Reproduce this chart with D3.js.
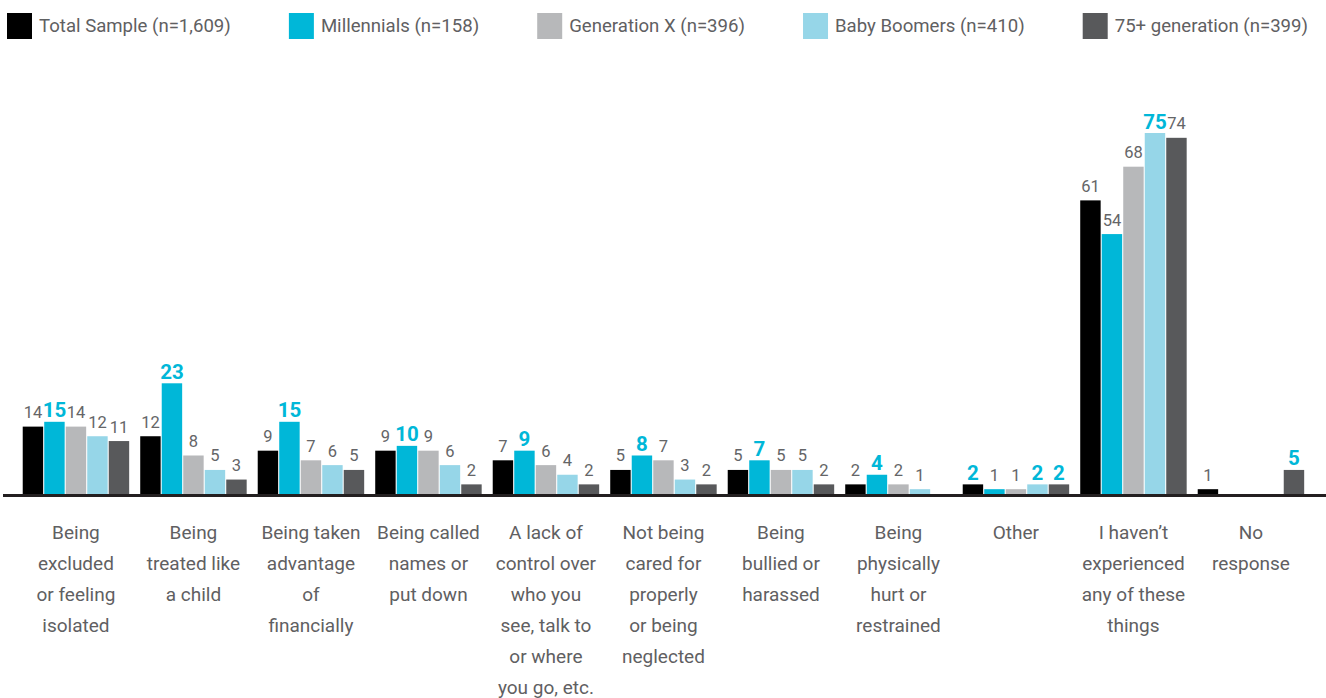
<!DOCTYPE html>
<html>
<head>
<meta charset="utf-8">
<script src="https://cdn.jsdelivr.net/npm/d3@7"></script>
<style>
  body { margin: 0; background: #fff; }
  svg { display: block; font-family: Roboto, "Open Sans", sans-serif; }
</style>
</head>
<body>
<svg id="chart" width="1326" height="698"></svg>
<script>
// categories and their wrapped label lines
var categories = ["excluded", "child", "financially", "names", "control", "neglected",
  "bullied", "hurt", "other", "none", "noresponse"];
var categoryLines = [
  ["Being", "excluded", "or feeling", "isolated"],
  ["Being", "treated like", "a child"],
  ["Being taken", "advantage", "of", "financially"],
  ["Being called", "names or", "put down"],
  ["A lack of", "control over", "who you", "see, talk to", "or where", "you go, etc."],
  ["Not being", "cared for", "properly", "or being", "neglected"],
  ["Being", "bullied or", "harassed"],
  ["Being", "physically", "hurt or", "restrained"],
  ["Other"],
  ["I haven\u2019t", "experienced", "any of these", "things"],
  ["No", "response"]
];

var seriesNames = ["Total Sample (n=1,609)", "Millennials (n=158)", "Generation X (n=396)",
  "Baby Boomers (n=410)", "75+ generation (n=399)"];
var seriesColors = ["#000000", "#00b7d8", "#b7b8ba", "#96d6e8", "#58595b"];

// values in percent, null = no bar
var totalSample = [14, 12, 9, 9, 7, 5, 5, 2, 2, 61, 1];
var millennials = [15, 23, 15, 10, 9, 8, 7, 4, 1, 54, null];
var generationX = [14, 8, 7, 9, 6, 7, 5, 2, 1, 68, null];
var babyBoomers = [12, 5, 6, 6, 4, 3, 5, 1, 2, 75, null];
var gen75plus = [11, 3, 5, 2, 2, 2, 2, null, 2, 74, 5];
var seriesValues = [totalSample, millennials, generationX, babyBoomers, gen75plus];

var svg = d3.select("#chart");
var baseY = 494;

var x0 = d3.scaleBand()
  .domain(categories)
  .range([17.2, 1309.7])
  .paddingInner(0.094)
  .paddingOuter(0.047);
var x1 = d3.scaleBand()
  .domain(d3.range(seriesNames.length))
  .range([0, x0.bandwidth()])
  .paddingInner(0.05);
var y = d3.scaleLinear().domain([0, 75]).range([baseY, 133]);

// legend, spread across the top
var legend = svg.append("g").attr("class", "legend");
var items = [];
seriesNames.forEach(function(name, i) {
  var g = legend.append("g");
  g.append("rect")
    .attr("x", 0).attr("y", 13)
    .attr("width", 25).attr("height", 26)
    .attr("fill", seriesColors[i]);
  var t = g.append("text")
    .attr("x", 32).attr("y", 32)
    .attr("font-size", 18.6)
    .attr("fill", "#5f6062")
    .text(name);
  items.push({ g: g, w: 32 + t.node().getComputedTextLength() });
});
var legLeft = 7, legRight = 1308;
var gap = (legRight - legLeft - d3.sum(items, function(d) { return d.w; })) / (items.length - 1);
var cx = legLeft;
items.forEach(function(d) {
  d.g.attr("transform", "translate(" + cx + ",0)");
  cx += d.w + gap;
});

// bars
var groups = svg.append("g").selectAll("g")
  .data(categories)
  .join("g")
  .attr("transform", function(d) { return "translate(" + x0(d) + ",0)"; });

groups.each(function(cat, ci) {
  var g = d3.select(this);
  var vals = seriesValues.map(function(s) { return s[ci]; });
  var maxVal = d3.max(vals);
  vals.forEach(function(v, si) {
    if (v === null) return;
    g.append("rect")
      .attr("x", x1(si))
      .attr("y", y(v))
      .attr("width", x1.bandwidth())
      .attr("height", baseY - y(v))
      .attr("fill", seriesColors[si]);
    var hi = v === maxVal;
    g.append("text")
      .attr("x", x1(si) + x1.bandwidth() / 2)
      .attr("y", y(v) - (hi ? 4.5 : 8.5))
      .attr("text-anchor", "middle")
      .attr("font-size", hi ? 20.5 : 16.5)
      .attr("font-weight", hi ? 700 : 400)
      .attr("fill", hi ? "#00b7d8" : "#646567")
      .text(v);
  });
});

// baseline
svg.append("line")
  .attr("x1", 3).attr("x2", 1326)
  .attr("y1", baseY + 1.5).attr("y2", baseY + 1.5)
  .attr("stroke", "#231f20")
  .attr("stroke-width", 3);

// category labels
var labels = svg.append("g").selectAll("text")
  .data(categories)
  .join("text")
  .attr("text-anchor", "middle")
  .attr("font-size", 19)
  .attr("fill", "#5f6062");
labels.each(function(d, i) {
  var t = d3.select(this);
  var xc = x0(d) + x0.bandwidth() / 2;
  categoryLines[i].forEach(function(line, li) {
    t.append("tspan")
      .attr("x", xc)
      .attr("y", 539 + li * 31)
      .text(line);
  });
});
</script>
</body>
</html>
